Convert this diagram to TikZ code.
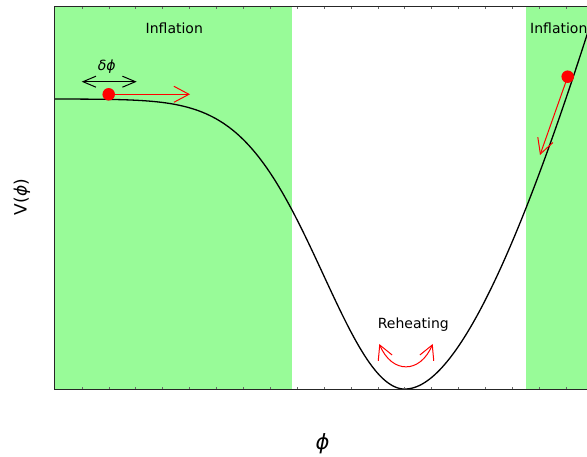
\RequirePackage{fix-cm}
\documentclass[tikz,border=0pt]{standalone}
\usepackage{fontspec}
\setmainfont{DejaVu Sans}
\usetikzlibrary{arrows.meta}
\definecolor{pgreen}{RGB}{152,251,152}
\begin{document}
\begin{tikzpicture}[x=1pt,y=-1pt,
  lbl/.style={font=\fontsize{14}{16}\selectfont, inner sep=0pt},
  axisline/.style={draw=black!85, line width=1.4pt},
  tickmark/.style={draw=black!60, line width=0.6pt},
  curveline/.style={draw=black, line width=1.3pt},
  ball/.style={circle, fill=red, inner sep=0pt, minimum size=12.5pt},
  redarr/.style={draw=red, line width=1pt, -{Straight Barb[length=15pt,width=16pt,line width=1pt]}},
  redarrtwo/.style={draw=red, line width=1pt, {Straight Barb[length=14pt,width=15pt,line width=1pt]}-{Straight Barb[length=14pt,width=15pt,line width=1pt]}},
  blkarr/.style={draw=black, line width=1pt, {Straight Barb[length=13pt,width=11pt,line width=1pt]}-{Straight Barb[length=13pt,width=11pt,line width=1pt]}}]
\useasboundingbox (0,0) rectangle (587,457);
\clip (0,0) rectangle (587,457);
% green bands
\fill[pgreen] (54.7,6.7) rectangle (291.7,389.3);
\fill[pgreen] (526,6.7) rectangle (590,389.3);
% potential curve
\draw[curveline] plot[domain=55:405,samples=140] (\x,{389-290*(1-exp(-((\x-405)/100)^2/1.33))})
  -- plot[domain=405:590,samples=80] (\x,{389-1.79*((\x-405)/10)^2/(1+(\x-405)/270)});
% frame
\draw[axisline] (590,6.7) -- (54.7,6.7) -- (54.7,389.3) -- (590,389.3);
\foreach \k in {1,...,19} {
  \draw[tickmark] ({55+26.9*\k},389.3) -- ++(0,-2);
  \draw[tickmark] ({55+26.9*\k},6.7) -- ++(0,2);
}
% labels
\node[lbl, anchor=base] (inf1) at (174.3,34) {Inflation};
\node[lbl, anchor=base west] (inf2) at (530,34) {Inflation};
\node[lbl, anchor=base] (reh) at (413.3,328.3) {Reheating};
\node[font=\fontsize{17}{20}\selectfont, rotate=90, inner sep=0pt] (vlab) at (22,197) {V({\itshape ϕ})};
\node[font=\fontsize{21}{24}\selectfont\itshape, inner sep=0pt] (phil) at (322.5,444) {ϕ};
\node[font=\fontsize{14}{16}\selectfont\itshape, inner sep=0pt] (dphi) at (106.7,66.7) {δϕ};
% delta phi arrow
\coordinate (d1) at (81.7,81.7);
\coordinate (d2) at (136.7,81.7);
\draw[blkarr] (d1) -- (d2);
% left ball and arrow
\node[ball] (b1) at (108.7,94.3) {};
\coordinate (t1) at (190,94.3);
\draw[redarr] (b1.center) -- (t1);
% right ball and arrow
\node[ball] (b2) at (567.7,76.7) {};
\coordinate (t2) at (540,155);
\draw[redarr] (b2.center) -- (t2);
% reheating arrow
\coordinate (r1) at (379.3,344);
\coordinate (r2) at (432.7,344);
\draw[redarrtwo] (r1) .. controls (392,374) and (420,374) .. (r2);
\end{tikzpicture}
\end{document}
